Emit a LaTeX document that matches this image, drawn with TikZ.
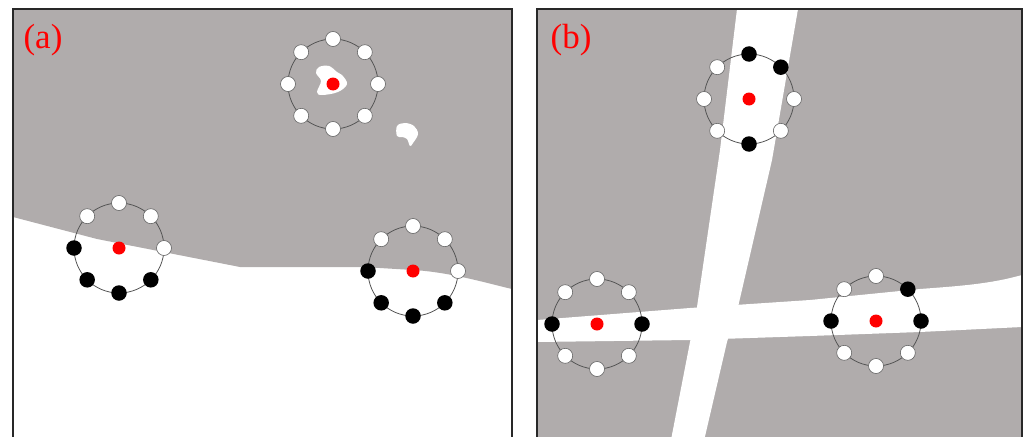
\documentclass[tikz,border=0pt]{standalone}
\usepackage{fontspec}
\setmainfont{Liberation Serif}
\definecolor{bggray}{RGB}{176,172,172}
\definecolor{ringgray}{RGB}{85,85,85}
\definecolor{nodegray}{RGB}{100,100,100}
\definecolor{framegray}{RGB}{40,40,40}
\tikzset{
  ring/.style={draw=ringgray, line width=0.8pt},
  wn/.style={circle, draw=nodegray, fill=white, line width=0.6pt, minimum size=15pt, inner sep=0pt},
  bn/.style={circle, fill=black, minimum size=15.5pt, inner sep=0pt},
  rd/.style={circle, fill=red, minimum size=13pt, inner sep=0pt},
  frm/.style={draw=framegray, line width=1.3pt},
  lbl/.style={text=red, font=\fontsize{35}{35}\selectfont, inner sep=0pt},
}
\begin{document}
\begin{tikzpicture}[x=1pt, y=-1pt]
\useasboundingbox (0,0) rectangle (1024,436);
% ---------- panel (a) ----------
\fill[bggray] (13,9) -- (512,9) -- (512,289) .. controls (490,284) and (450,272) .. (413,270) -- (363,267) -- (240,267) -- (97,239) -- (13,217) -- cycle;
\fill[white] plot[smooth cycle, tension=0.6] coordinates {(319,67) (329,66) (337,72) (342,75) (347,84) (338,92) (322,95) (317,92) (321,81) (316,73)};
\fill[white] plot[smooth cycle, tension=0.6] coordinates {(397,126) (405,123) (414,126) (418,134) (413,143) (410,146) (407,139) (402,137) (397,136)};
\draw[frm] (13,445) -- (13,9) -- (512,9) -- (512,445);
% ---------- panel (b) ----------
\fill[bggray] (537,9) rectangle (1022,445);
\fill[white] (737,9) -- (798,9) -- (772,160) -- (738,307) -- (727,342) -- (703,445) -- (670,445) -- (690,342) -- (697,307) -- (720,150) -- cycle;
\fill[white] (537,320) -- (690,308) -- (810,300) -- (920,289) .. controls (960,286) and (990,284) .. (1022,275) -- (1022,327) -- (920,332) -- (810,336) -- (690,340) -- (537,342) -- cycle;
\draw[frm] (537,445) -- (537,9) -- (1022,9) -- (1022,445);
% ---------- probes ----------
\coordinate (a1) at (119,248);
\coordinate (a2) at (333,84);
\coordinate (a3) at (413,271);
\coordinate (b1) at (749,99);
\coordinate (b2) at (597,324);
\coordinate (b3) at (876,321);
\foreach \c in {a1,a2,a3,b1,b2,b3}{
  \draw[ring] (\c) circle[radius=45pt];
}
\foreach \a/\s in {0/wn,45/wn,90/wn,135/wn,180/bn,225/bn,270/bn,315/bn}{
  \node[\s] (a1n\a) at ([shift={(\a:45pt)}]a1) {};
  \node[\s] (a3n\a) at ([shift={(\a:45pt)}]a3) {};
}
\foreach \a in {0,45,...,315}{
  \node[wn] (a2n\a) at ([shift={(\a:45pt)}]a2) {};
}
\foreach \a/\s in {0/wn,45/bn,90/bn,135/wn,180/wn,225/wn,270/bn,315/wn}{
  \node[\s] (b1n\a) at ([shift={(\a:45pt)}]b1) {};
}
\foreach \a/\s in {0/bn,45/wn,90/wn,135/wn,180/bn,225/wn,270/wn,315/wn}{
  \node[\s] (b2n\a) at ([shift={(\a:45pt)}]b2) {};
}
\foreach \a/\s in {0/bn,45/bn,90/wn,135/wn,180/bn,225/wn,270/wn,315/wn}{
  \node[\s] (b3n\a) at ([shift={(\a:45pt)}]b3) {};
}
\foreach \c in {a1,a2,a3,b1,b2,b3}{
  \node[rd] (\c r) at (\c) {};
}
% ---------- labels ----------
\node[lbl] (la) at (43,40) {(a)};
\node[lbl] (lb) at (571,40) {(b)};
\end{tikzpicture}
\end{document}
